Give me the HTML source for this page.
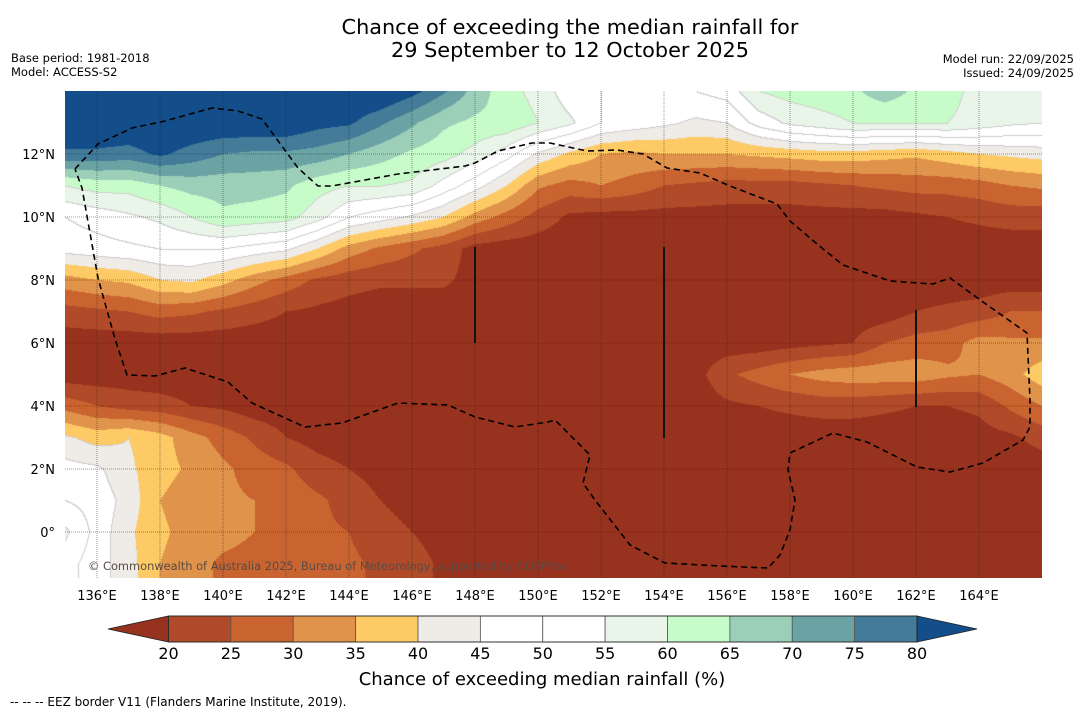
<!DOCTYPE html>
<html><head><meta charset="utf-8"><style>
body{margin:0;background:#fff;width:1085px;height:713px;overflow:hidden;font-family:"Liberation Sans","DejaVu Sans",sans-serif}
#wrap{position:relative;width:1085px;height:713px}
canvas{position:absolute;left:65px;top:91px}
svg{position:absolute;left:0;top:0}
</style></head><body><div id="wrap">
<canvas id="map" width="977" height="487"></canvas>
<svg id="ov" width="1085" height="713" font-family="DejaVu Sans, Liberation Sans, sans-serif">
<text x="570" y="34" font-size="20.8" text-anchor="middle">Chance of exceeding the median rainfall for</text>
<text x="570" y="57" font-size="20.8" text-anchor="middle">29 September to 12 October 2025</text>
<text x="11" y="62" font-size="11.5">Base period: 1981-2018</text>
<text x="11" y="76" font-size="11.5">Model: ACCESS-S2</text>
<text x="1074" y="63" font-size="11.5" text-anchor="end">Model run: 22/09/2025</text>
<text x="1074" y="77" font-size="11.5" text-anchor="end">Issued: 24/09/2025</text>
<g id="grid"></g>
<g id="lonlab"></g>
<g id="latlab"></g>
<polyline fill="none" stroke="#000" stroke-width="1.6" stroke-dasharray="6,4" points="75,169 98,144 132,128 165,121 212,108 238,111 262,119 298,168 318,186 332,186 398,174 465,166 475,163 498,151 532,143 550,143 587,151 617,150 643,154 667,168 700,173 730,186 777,204 790,221 817,244 843,265 890,281 933,284 950,278 983,302 1027,333 1030,400 1030,427 1023,440 983,463 950,472 917,467 867,442 833,433 790,453 788,470 795,500 790,530 780,555 768,568 720,566 665,563 630,545 595,500 583,483 590,455 575,440 555,420 548,422 515,427 475,417 448,405 398,403 342,423 305,427 252,403 228,382 185,368 155,376 127,375 115,339 98,278 82,188 75,169"/>
<line x1="475" y1="247" x2="475" y2="343" stroke="#111" stroke-width="2"/>
<line x1="664" y1="247" x2="664" y2="438" stroke="#111" stroke-width="2"/>
<line x1="916" y1="310" x2="916" y2="407" stroke="#111" stroke-width="2"/>
<text x="88" y="570" font-size="11.4" fill="#5a4a44">© Commonwealth of Australia 2025, Bureau of Meteorology, supported by COSPPac</text>
<g id="cbar"></g>
<text x="542" y="685" font-size="18" text-anchor="middle">Chance of exceeding median rainfall (%)</text>
<text x="10" y="706" font-size="12">--  --  -- EEZ border V11 (Flanders Marine Institute, 2019).</text>
</svg></div>
<script>
const lons=[135,136,137,138,139,140,141,142,143,144,145,146,147,148,149,150,151,152,153,154,155,156,157,158,159,160,161,162,163,164,165,166];
const lats=[14,13,12,11,10,9,8,7,6,5,4,3,2,1,0,-1,-2];
const row14=[86,86,86,86,86,86,86,86,86,86,86,82,76,68,62,58,52,50,50,50,50,52,60,62,63,64,68,64,62,58,56,55];
const row13=[85,85,85,85,85,85,85,85,82,81,76,71,66,64,64,60,56,50,48,46,44,45,52,56,58,60,60,60,60,58,56,55];
const row12=[79,79,78,81,78,75,74,74,73,70,67,64,62,58,52,44,39,35,34,35,35,35,36,37,38,38,37,36,38,40,41,42];
const row11=[60,62,62,65,67,67,67,66,62,60,60,59,53,47,40,31,28,30,28,25,24,23,23,23,24,25,26,27,27,28,30,31];
const row10=[50,52,54,56,60,64,63,62,57,50,47,44,40,33,28,23,19,18,18,18,18,18,18,18,18,18,18,19,20,21,22,22];
const row9=[47,48,49,50,50,50,48,46,40,33,29,26,23,18,17,17,17,17,17,17,17,17,17,17,17,17,17,17,17,17,17,17];
const row8=[33,35,36,40,41,37,32,28,24,22,21,21,21,18,17,17,17,17,17,17,17,17,17,17,17,17,17,17,17,17,17,17];
const row7=[23,24,25,27,26,24,22,20,19,18,17,17,17,17,17,17,17,17,17,17,17,17,17,17,17,17,17,20,21,22,25,25];
const row6=[17,17,17,17,17,17,17,17,17,17,17,17,17,17,17,17,17,17,17,17,17,17,17,18,19,20,25,27,28,32,31,31];
const row5=[17,17,17,17,17,17,17,17,17,17,17,17,17,17,17,17,17,17,17,17,18,24,27,30,32,33,33,33,31,30,33,38];
const row4=[28,25,23,22,20,19,17,17,17,17,17,17,17,17,17,17,17,17,17,17,17,19,20,21,22,22,21,20,20,21,26,30];
const row3=[41,38,40,37,32,28,24,20,18,17,17,17,17,17,17,17,17,17,17,17,17,17,17,17,17,17,17,17,17,18,19,22];
const row2=[47,46,41,37,34,31,28,26,22,20,18,17,17,17,17,17,17,17,17,17,17,17,17,17,17,17,17,17,17,17,17,17];
const row1=[50,48,43,35,32,31,30,28,26,23,20,18,17,17,17,17,17,17,17,17,17,17,17,17,17,17,17,17,17,17,17,17];
const row0=[56,48,41,36,33,32,30,27,26,25,22,20,18,17,17,17,17,17,17,17,17,17,17,17,17,17,17,17,17,17,17,17];
const rowm1=[52,47,42,35,32,29,28,27,26,26,24,22,19,17,17,17,17,17,17,17,17,17,17,17,17,17,17,17,17,17,17,17];
const rowm2=[52,47,42,35,32,29,28,27,26,26,24,22,19,17,17,17,17,17,17,17,17,17,17,17,17,17,17,17,17,17,17,17];
const field=[row14,row13,row12,row11,row10,row9,row8,row7,row6,row5,row4,row3,row2,row1,row0,rowm1,rowm2];
const levels=[20,25,30,35,40,45,50,55,60,65,70,75,80];
const colors=["#97321f","#b04a28","#c96431","#e0934a","#fdca66","#efebe7","#ffffff","#ffffff","#e9f5e9","#c7fbc9","#9ccfb8","#6ba3a5","#437b98","#134e8a"];
const lonTicks=[136,138,140,142,144,146,148,150,152,154,156,158,160,162,164];
const latTicks=[12,10,8,6,4,2,0];

const X0=65.5,Y0=91,PPD=31.5,LON0=135,LAT0=14;
const xOf=lon=>X0+(lon-LON0)*PPD;
const yOf=lat=>Y0+(LAT0-lat)*PPD;
function hex(c){return [parseInt(c.slice(1,3),16),parseInt(c.slice(3,5),16),parseInt(c.slice(5,7),16)];}
const rgb=colors.map(hex);
function binOf(v){let i=0;while(i<levels.length&&v>=levels[i])i++;return i;}
function val(lon,lat){
  let fx=(lon-lons[0])/(lons[1]-lons[0]),fy=(lats[0]-lat)/(lats[0]-lats[1]);
  fx=Math.max(0,Math.min(lons.length-1.001,fx));fy=Math.max(0,Math.min(lats.length-1.001,fy));
  const i=Math.floor(fx),j=Math.floor(fy),a=fx-i,b=fy-j;
  return field[j][i]*(1-a)*(1-b)+field[j][i+1]*a*(1-b)+field[j+1][i]*(1-a)*b+field[j+1][i+1]*a*b;
}
const cv=document.getElementById('map'),ctx=cv.getContext('2d');
const W=cv.width,H=cv.height,img=ctx.createImageData(W,H);
const bins=new Int8Array(W*H);
for(let py=0;py<H;py++){for(let px=0;px<W;px++){
  const lon=LON0+(px+65+0.5-X0)/PPD,lat=LAT0-(py+0.5)/PPD;
  bins[py*W+px]=binOf(val(lon,lat));
}}
for(let py=0;py<H;py++){for(let px=0;px<W;px++){
  const k=py*W+px,b=bins[k];let c=rgb[b];
  const edge=(px>0&&bins[k-1]!==b)||(py>0&&bins[k-W]!==b);
  if(edge&&b>=5&&b<=8)c=[205,205,205];
  img.data[k*4]=c[0];img.data[k*4+1]=c[1];img.data[k*4+2]=c[2];img.data[k*4+3]=255;
}}
ctx.putImageData(img,0,0);

const NS='http://www.w3.org/2000/svg';
function mk(tag,attrs,parent){const e=document.createElementNS(NS,tag);for(const k in attrs)e.setAttribute(k,attrs[k]);parent.appendChild(e);return e;}
const grid=document.getElementById('grid'),lonlab=document.getElementById('lonlab'),latlab=document.getElementById('latlab');
lonTicks.forEach(l=>{
  const x=xOf(l);
  const g=mk('line',{x1:x,y1:91,x2:x,y2:578,stroke:'#222','stroke-opacity':0.6,'stroke-width':0.8,'stroke-dasharray':'1,1'},grid);
  
  
  const t=mk('text',{x:x,y:600,'font-size':13,'text-anchor':'middle'},lonlab);t.textContent=l+'°E';
  
  
});
latTicks.forEach(l=>{
  const y=yOf(l);
  const g=mk('line',{x1:65,y1:y,x2:1042,y2:y,stroke:'#222','stroke-opacity':0.6,'stroke-width':0.8,'stroke-dasharray':'1,1'},grid);
  
  
  const t=mk('text',{x:55,y:y+5,'font-size':13,'text-anchor':'end'},latlab);t.textContent=l===0?'0°':l+'°N';
  
  
});
const cb=document.getElementById('cbar');
const CB0=168.5,CB1=917,CBT=616,CBB=642,step=(CB1-CB0)/(levels.length-1);
const cbx=v=>CB0+(v-levels[0])/(levels[levels.length-1]-levels[0])*(CB1-CB0);
let p=mk('polygon',{points:`108,629 ${CB0},${CBT} ${CB0},${CBB}`,fill:colors[0],stroke:'#222','stroke-width':0.8},cb);


for(let i=0;i<levels.length-1;i++){
  const r=mk('rect',{x:cbx(levels[i]),y:CBT,width:step,height:CBB-CBT,fill:colors[i+1],stroke:'#555','stroke-width':0.8},cb);
  
  
}
p=mk('polygon',{points:`${CB1},${CBT} 977,629 ${CB1},${CBB}`,fill:colors[colors.length-1],stroke:'#222','stroke-width':0.8},cb);


mk('rect',{x:CB0,y:CBT,width:CB1-CB0,height:CBB-CBT,fill:'none',stroke:'#222','stroke-width':0.8},cb);
levels.forEach(v=>{
  const t=mk('text',{x:cbx(v),y:659,'font-size':16,'text-anchor':'middle'},cb);t.textContent=v;
  
  
});
</script></body></html>
